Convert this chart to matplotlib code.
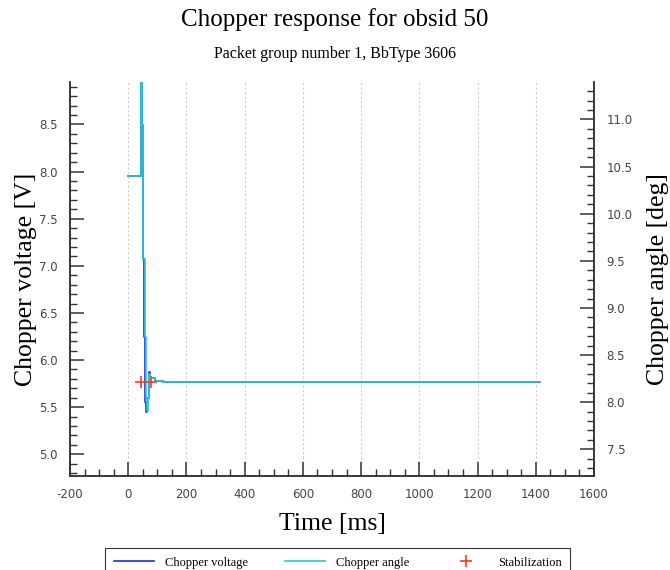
import numpy as np
import matplotlib.pyplot as plt
from matplotlib.ticker import MultipleLocator

plt.rcParams['font.family'] = ['Liberation Serif', 'DejaVu Serif']
plt.rcParams['axes.unicode_minus'] = False

# ---------------- DATA ----------------
time_volt = [0, 44, 48, 52, 55, 59, 62, 66, 70, 75, 92, 121, 1415]
volt = [7.95, 9.80, 8.49, 7.07, 6.24, 5.55, 5.45, 5.60, 5.87, 5.81, 5.78, 5.765, 5.765]

time_angle = [0, 44, 48, 52, 56, 60, 64, 67, 71, 76, 93, 122, 1415]
angle = [10.40, 12.20, 10.94, 9.52, 8.69, 8.01, 7.91, 8.04, 8.30, 8.26, 8.22, 8.212, 8.212]

stab_time = [44, 78]
stab_volt = [5.77, 5.77]

volt_lim = (4.77, 8.95)
angle_lim = (7.217, 11.397)

# ---------------- FIGURE ----------------
fig = plt.figure(figsize=(6.7, 5.7), dpi=100)
ax = fig.add_axes([70 / 670, 94 / 570, 524 / 670, 394 / 570])
ax2 = ax.twinx()

ax.step(time_volt, volt, where='post', color='#1a2ee0', lw=1.2, label='Chopper voltage')
ax2.step(time_angle, angle, where='post', color='#2cc8c8', lw=1.2, label='Chopper angle')
# stabilization markers in voltage units, drawn on top of both lines
stab, = ax2.plot(stab_time, stab_volt, '+', color='#ff3a1a', ms=9, mew=1.2,
                 label='Stabilization', transform=ax.transData, zorder=5)

ax.set_xlim(-200, 1600)
ax.set_ylim(*volt_lim)
ax2.set_ylim(*angle_lim)

ax.xaxis.set_major_locator(MultipleLocator(200))
ax.xaxis.set_minor_locator(MultipleLocator(50))
ax.yaxis.set_major_locator(MultipleLocator(0.5))
ax.yaxis.set_minor_locator(MultipleLocator(0.1))
ax2.yaxis.set_major_locator(MultipleLocator(0.5))
ax2.yaxis.set_minor_locator(MultipleLocator(0.1))

for a in (ax, ax2):
    a.spines['top'].set_visible(False)
    for s in a.spines.values():
        s.set_linewidth(1.1)
        s.set_color('#333333')
    a.tick_params(which='major', direction='in', length=10, width=1.1, color='#333333',
                  labelsize=8.5, labelcolor='#444444', pad=9)
    a.tick_params(which='minor', direction='in', length=5, width=1.0, color='#333333')
    for lbl in a.get_xticklabels() + a.get_yticklabels():
        lbl.set_family('DejaVu Sans')

ax.grid(axis='x', which='major', ls=(0, (2, 2)), color='#cccccc', lw=0.8)

ax.set_xlabel('Time [ms]', fontsize=18.5, labelpad=8)
ax.set_ylabel('Chopper voltage [V]', fontsize=18.5, labelpad=1)
ax2.set_ylabel('Chopper angle [deg]', fontsize=18.5, labelpad=10)

fig.text(0.5, 1 - 20 / 570, 'Chopper response for obsid 50', ha='center', va='center', fontsize=18)
fig.text(0.5, 1 - 54 / 570, 'Packet group number 1, BbType 3606', ha='center', va='center', fontsize=11.5)

handles = ax.get_lines() + ax2.get_lines()
leg = fig.legend(handles, [h.get_label() for h in handles], loc='upper center',
                 bbox_to_anchor=(0.504, 1 - 548 / 570), ncol=3, fontsize=9,
                 frameon=True, fancybox=False, edgecolor='black', handlelength=3.2,
                 handletextpad=0.9, columnspacing=2.95, borderpad=0.7, borderaxespad=0)
leg.get_frame().set_linewidth(0.8)

fig.savefig('out.png', dpi=100)
